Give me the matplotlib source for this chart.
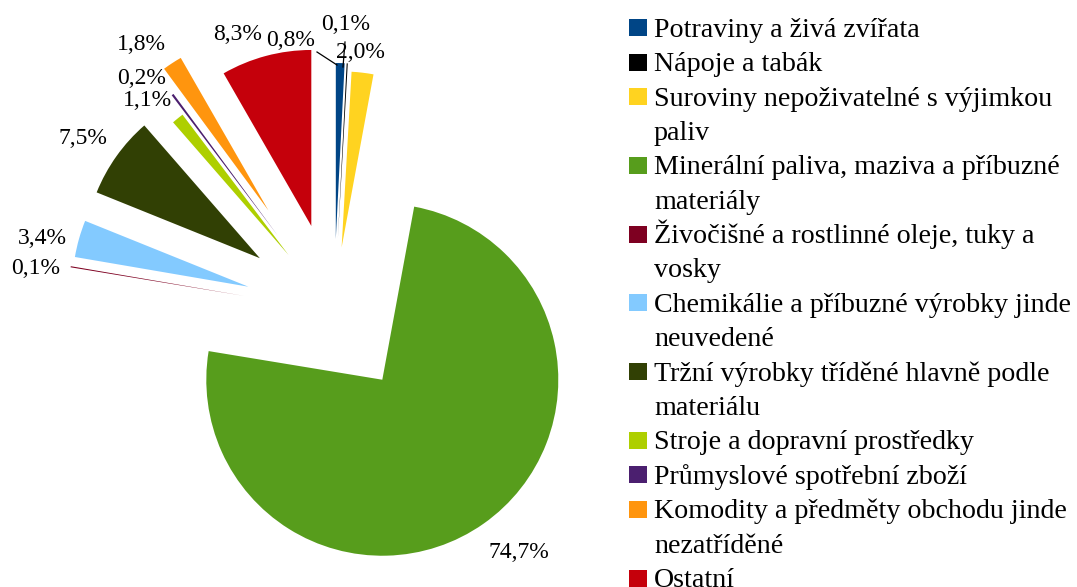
import textwrap
import matplotlib.pyplot as plt
from matplotlib.patches import Rectangle

# data
categories = [
    "Potraviny a živá zvířata",
    "Nápoje a tabák",
    "Suroviny nepoživatelné s výjimkou paliv",
    "Minerální paliva, maziva a příbuzné materiály",
    "Živočišné a rostlinné oleje, tuky a vosky",
    "Chemikálie a příbuzné výrobky jinde neuvedené",
    "Tržní výrobky tříděné hlavně podle materiálu",
    "Stroje a dopravní prostředky",
    "Průmyslové spotřební zboží",
    "Komodity a předměty obchodu jinde nezatříděné",
    "Ostatní",
]
shares = [0.8, 0.1, 2.0, 74.7, 0.1, 3.4, 7.5, 1.1, 0.2, 1.8, 8.3]
colors = ["#004586", "#000000", "#ffd320", "#579d1c", "#7e0021", "#83caff",
          "#314004", "#aecf00", "#4b1f6f", "#ff950e", "#c5000b"]

# layout (pixels, y measured from top)
W, H = 1077, 587
center_px = (334, 311)
radius_px = 176
explode_px = [72, 72, 64, 84, 91, 89, 91, 72, 94, 120, 88]
label_xy = [(291, 40), (346, 24), (360, 52), (519, 553), (36, 268), (42, 238),
            (83, 139), (147, 100), (142, 78), (141, 45), (238, 34)]
leaders = [((317, 52), (337, 65)), ((345, 42), (343, 67))]

plt.rcParams['font.family'] = ['Liberation Serif', 'DejaVu Serif']

fig = plt.figure(figsize=(W / 100, H / 100), dpi=100)
ax = fig.add_axes([0, 0, 1, 1])

ax.pie(shares, colors=colors, explode=explode_px, radius=radius_px,
       center=(center_px[0], H - center_px[1]), startangle=90,
       counterclock=False, wedgeprops=dict(linewidth=0))

for val, (x, y) in zip(shares, label_xy):
    txt = f"{val:.1f}%".replace('.', ',')
    ax.text(x, H - y, txt, ha='center', va='center', fontsize=17)

for (x0, y0), (x1, y1) in leaders:
    ax.plot([x0, x1], [H - y0, H - y1], color='black', lw=0.9)

# legend drawn by hand so wrapped lines keep the same pitch
row = 0
first_base, pitch = 36.7, 34.4
for name, col in zip(categories, colors):
    lines = textwrap.wrap(name, width=35)
    base = first_base + row * pitch
    ax.add_patch(Rectangle((629, H - (base - 9) - 8.5), 17.5, 17,
                           facecolor=col, edgecolor='none'))
    for i, line in enumerate(lines):
        ax.text(654, H - (base + i * pitch), line, ha='left',
                va='baseline', fontsize=20.2)
    row += len(lines)

ax.set_xlim(0, W)
ax.set_ylim(0, H)
ax.set_aspect('equal')
ax.axis('off')

fig.savefig("out.png", dpi=100)
